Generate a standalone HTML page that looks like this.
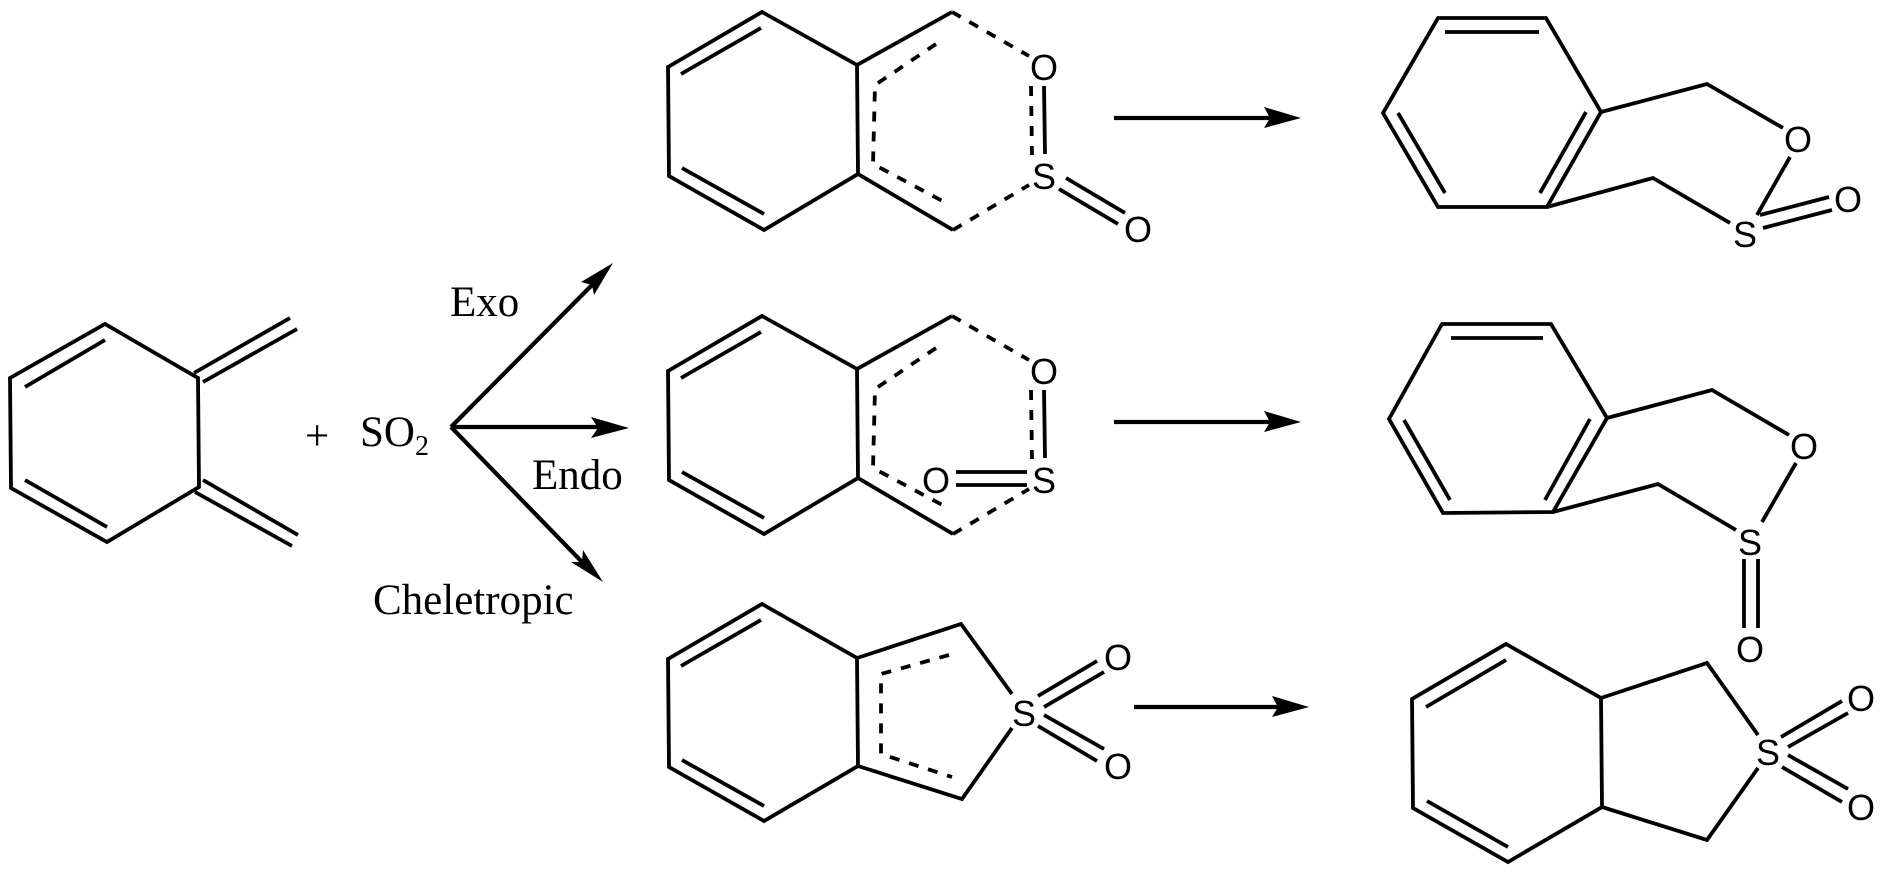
<!DOCTYPE html>
<html>
<head>
<meta charset="utf-8">
<style>
html,body{margin:0;padding:0;background:#fff;}
svg{display:block;}
.b{fill:none;stroke:#000;stroke-width:3.8;stroke-linejoin:miter;stroke-linecap:butt;}
.d{fill:none;stroke:#000;stroke-width:3.8;stroke-dasharray:10 10;stroke-linejoin:miter;}
.a{fill:none;stroke:#000;stroke-width:4.2;}
.h{fill:#000;stroke:none;}
.s{font-family:"Liberation Sans",sans-serif;font-size:36px;fill:#000;text-anchor:middle;}
.t{font-family:"Liberation Serif",serif;font-size:43px;fill:#000;}
</style>
</head>
<body>
<svg width="1885" height="873" viewBox="0 0 1885 873" xmlns="http://www.w3.org/2000/svg">
<rect width="1885" height="873" fill="#fff"/>

<!-- Reactant -->
<path class="b" d="M10 378L105 324L198 378L199 487L107 542L11 488Z"/>
<path class="b" d="M25 387L105 340M25 480L107 527"/>
<path class="b" d="M194 373L290 318M203 382L297 329M203 480L298 535M195 492L292 546"/>
<text class="t" x="305" y="450">+</text>
<text class="t" x="360" y="446">SO<tspan font-size="28" dy="9">2</tspan></text>
<text class="t" x="450" y="316">Exo</text>
<text class="t" x="532" y="489">Endo</text>
<text class="t" x="373" y="614" font-size="44">Cheletropic</text>

<!-- Branch arrows -->
<path class="a" d="M451 427L592 285M451 427L600 427M451 427L582 562"/>
<path class="h" d="M613 263L594 295L592 285L581 282Z"/>
<path class="h" d="M629 428L591 417L598 428L591 438Z"/>
<path class="h" d="M603 582L571 562L582 562L583 550Z"/>

<!-- Molecule row 1 -->
<path class="b" d="M668 67L762 12L857 65L858 174L764 230L669 176Z"/>
<path class="b" d="M681 74L761 28M682 168L764 214"/>
<path class="b" d="M857 65L952 12M858 174L953 230"/>
<path class="d" d="M952 12L1029 56"/>
<path class="d" d="M953 230L1029 185"/>
<path class="d" d="M936 44L875 85L873 164L950 205"/>
<path class="b" d="M1044 86L1045 154"/>
<path class="d" d="M1031 86L1032 155"/>
<path class="a" d="M1114 118L1275 118"/>
<path class="h" d="M1301 118L1264 107L1270 118L1264 128Z"/>
<text class="s" x="1044" y="80">O</text>
<text class="s" x="1044" y="189">S</text>
<text class="s" x="1138" y="242">O</text>
<path class="b" d="M1066 178L1125 213M1059 189L1118 224"/>

<!-- Molecule row 2 -->
<g transform="translate(0,304)">
<path class="b" d="M668 67L762 12L857 65L858 174L764 230L669 176Z"/>
<path class="b" d="M681 74L761 28M682 168L764 214"/>
<path class="b" d="M857 65L952 12M858 174L953 230"/>
<path class="d" d="M952 12L1029 56"/>
<path class="d" d="M953 230L1029 185"/>
<path class="d" d="M936 44L875 85L873 164L950 205"/>
<path class="b" d="M1044 86L1045 154"/>
<path class="d" d="M1031 86L1032 155"/>
<path class="a" d="M1114 118L1275 118"/>
<path class="h" d="M1301 118L1264 107L1270 118L1264 128Z"/>
</g>
<text class="s" x="1044" y="384">O</text>
<text class="s" x="1044" y="493">S</text>
<text class="s" x="936" y="493">O</text>
<path class="b" d="M956 472L1027 472M956 485L1027 485"/>

<!-- Molecule row 3 -->
<path class="b" d="M668 659L762 604L857 658L858 766L764 821L669 767Z"/>
<path class="b" d="M681 666L761 620M682 760L764 806"/>
<path class="b" d="M857 658L961 624L1012 694M858 766L962 799L1012 728"/>
<path class="d" d="M949 655L881 674L881 754L952 777"/>
<text class="s" x="1024" y="726">S</text>
<text class="s" x="1118" y="670">O</text>
<text class="s" x="1118" y="779">O</text>
<path class="b" d="M1038 696L1097 661M1044 707L1104 672M1044 715L1104 749M1038 726L1097 761"/>
<path class="a" d="M1134 707L1282 707"/>
<path class="h" d="M1309 707L1272 696L1278 707L1272 717Z"/>

<!-- Product 1 -->
<path class="b" d="M1438 18L1546 18L1601 112L1547 207L1438 207L1383 113Z"/>
<path class="b" d="M1445 32L1539 32M1586 112L1540 193M1398 113L1445 193"/>
<path class="b" d="M1601 112L1707 84L1783 128M1547 207L1653 178L1730 223"/>
<text class="s" x="1798" y="152">O</text>
<text class="s" x="1745" y="247">S</text>
<text class="s" x="1848" y="212">O</text>
<path class="b" d="M1790 157L1757 215M1760 215L1829 197M1763 228L1832 210"/>

<!-- Product 2 -->
<path class="b" d="M1442 324L1551 324L1607 418L1553 512L1443 513L1389 419Z"/>
<path class="b" d="M1451 338L1543 338M1590 419L1545 500M1404 420L1450 500"/>
<path class="b" d="M1607 418L1712 390L1789 435M1553 512L1658 484L1736 530"/>
<text class="s" x="1804" y="459">O</text>
<text class="s" x="1750" y="555">S</text>
<text class="s" x="1750" y="662">O</text>
<path class="b" d="M1796 463L1762 522M1744 559L1744 628M1758 559L1758 628"/>

<!-- Product 3 -->
<path class="b" d="M1506 644L1601 698L1602 807L1508 862L1413 808L1412 699Z"/>
<path class="b" d="M1426 707L1506 660M1427 801L1508 847"/>
<path class="b" d="M1601 698L1707 663L1758 735M1602 807L1707 840L1758 768"/>
<text class="s" x="1768" y="765">S</text>
<text class="s" x="1861" y="711">O</text>
<text class="s" x="1861" y="820">O</text>
<path class="b" d="M1781 737L1842 701M1788 747L1848 713M1788 755L1848 789M1782 767L1842 802"/>
</svg>
</body>
</html>
